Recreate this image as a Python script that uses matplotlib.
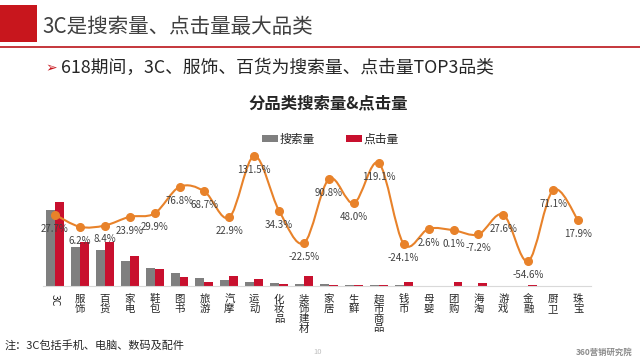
import matplotlib.pyplot as plt
import numpy as np
from matplotlib.path import Path
from matplotlib.patches import PathPatch, Rectangle

plt.rcParams['font.family'] = ['Noto Sans CJK SC', 'DejaVu Sans']

categories = ['3C', '服饰', '百货', '家电', '鞋包', '图书', '旅游', '汽摩', '运动', '化妆品',
              '装饰建材', '家居', '生鲜', '超市商品', '钱币', '母婴', '团购', '海淘', '游戏',
              '金融', '厨卫', '珠宝']
search = [76, 39, 36, 25, 18, 13, 8, 6, 4, 3, 2, 2, 1.5, 1.5, 1.2, 0.5, 0.5, 0.5, 0.3, 0.3, 0.3, 0.3]
clicks = [84, 44, 44, 30, 17, 9, 4, 10, 7, 2, 10, 1.5, 1.5, 1.5, 3.7, 0.5, 4, 3, 0.3, 0.8, 0.3, 0.3]
growth = [27.7, 6.2, 8.4, 23.9, 29.9, 76.8, 68.7, 22.9, 131.5, 34.3, -22.5, 90.8, 48.0, 119.1,
          -24.1, 2.6, 0.1, -7.2, 27.6, -54.6, 71.1, 17.9]

gray = '#7f7f7f'
red = '#c8102e'
orange = '#e8822a'
text_c = '#404040'

fig = plt.figure(figsize=[6.4, 3.6], dpi=100, facecolor='white')

# header
fig.patches.append(Rectangle((0, 1 - 42 / 360), 37 / 640, 37 / 360, transform=fig.transFigure,
                             facecolor='#c8161d', edgecolor='none'))
fig.text(42 / 640, 1 - 27 / 360, '3C是搜索量、点击量最大品类', fontsize=14.8, color=text_c,
         va='center', ha='left')
fig.add_artist(plt.Line2D([0, 1], [1 - 46.7 / 360] * 2, color='#c0262c', lw=1.3,
                          transform=fig.transFigure))
fig.text(45 / 640, 1 - 68 / 360, '➢', fontsize=10, color='#c8161d', va='center', ha='left',
         family=['DejaVu Sans'])
fig.text(61 / 640, 1 - 68 / 360, '618期间，3C、服饰、百货为搜索量、点击量TOP3品类', fontsize=12.8,
         color='#262626', va='center', ha='left')
fig.text(328 / 640, 1 - 103 / 360, '分品类搜索量&点击量', fontsize=11.8, fontweight='bold',
         color='#262626', va='center', ha='center')

ax = fig.add_axes([42.5 / 640, 74 / 360, 548 / 640, 156 / 360])
x = np.arange(len(categories))
w = 0.36
ax.bar(x - w / 2, search, w, color=gray, label='搜索量')
ax.bar(x + w / 2, clicks, w, color=red, label='点击量')
ax.set_xlim(-0.5, len(categories) - 0.5)
ax.set_ylim(0, 156)
ax.set_yticks([])
for s in ['top', 'right', 'left']:
    ax.spines[s].set_visible(False)
ax.spines['bottom'].set_color('#d9d9d9')
ax.set_xticks(x)
labels = [c if c == '3C' else '\n'.join(c) for c in categories]
ax.set_xticklabels(labels, fontsize=7.5, color='#262626', linespacing=0.95, va='top')
ax.tick_params(axis='x', length=0, pad=6)
ax.get_xticklabels()[0].set_rotation(-90)
ax.legend(ncol=2, frameon=False, loc='center', bbox_to_anchor=(0.525, 0.94), fontsize=8.5,
          handlelength=1.4, handleheight=0.5, columnspacing=2.6, handletextpad=0.1,
          labelcolor='#262626')

ax2 = ax.twinx()
ax2.set_ylim(-98.6, 177.5)
ax2.axis('off')
# smooth curve through the points (Catmull-Rom as cubic Bezier)
g = np.array(growth)
verts = [(x[0], g[0])]
codes = [Path.MOVETO]
for i in range(len(x) - 1):
    p0 = np.array([x[max(i - 1, 0)], g[max(i - 1, 0)]])
    p1 = np.array([x[i], g[i]])
    p2 = np.array([x[i + 1], g[i + 1]])
    p3 = np.array([x[min(i + 2, len(x) - 1)], g[min(i + 2, len(x) - 1)]])
    c1 = p1 + (p2 - p0) / 6
    c2 = p2 - (p3 - p1) / 6
    verts += [tuple(c1), tuple(c2), tuple(p2)]
    codes += [Path.CURVE4] * 3
ax2.add_patch(PathPatch(Path(verts, codes), facecolor='none', edgecolor=orange, lw=1.5))
ax2.plot(x, g, 'o', color=orange, ms=5.5)
for xi, gi in zip(x, g):
    ax2.annotate(f'{gi:.1f}%', (xi, gi), xytext=(0, -10), textcoords='offset points',
                 ha='center', va='center', fontsize=7, color=text_c)

fig.text(5 / 640, 1 - 345 / 360, '注：3C包括手机、电脑、数码及配件', fontsize=8, color='#262626',
         va='center', ha='left')
fig.text(318 / 640, 1 - 352 / 360, '10', fontsize=5.5, color='#bfbfbf', va='center', ha='center')
fig.text(632 / 640, 1 - 352 / 360, '360营销研究院', fontsize=6, color='#8c8c8c', va='center',
         ha='right', fontweight='bold')

plt.savefig('out.png', dpi=100)
